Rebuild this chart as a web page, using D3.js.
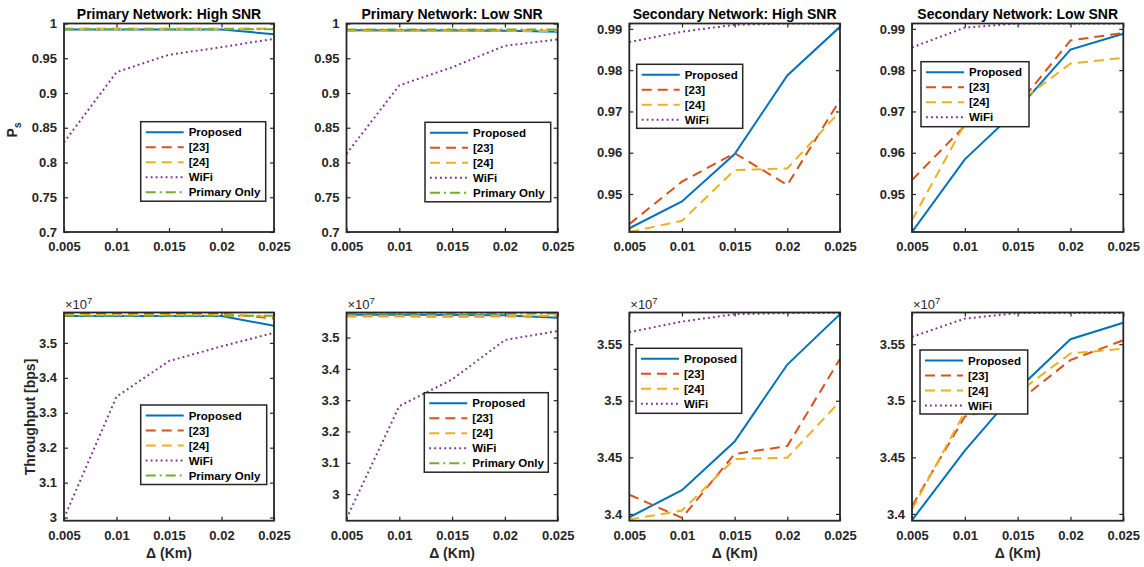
<!DOCTYPE html>
<html>
<head>
<meta charset="utf-8">
<script src="https://cdn.jsdelivr.net/npm/d3@7/dist/d3.min.js"></script>
<style>
body{margin:0;background:#fff;}
svg{display:block;font-family:"Liberation Sans",Arial,Helvetica,sans-serif;}
</style>
</head>
<body>
<svg id="chart" width="1144" height="567"></svg>
<script>

// ===============================
// DATA
// ===============================

const deltaKm=[0.005,0.01,0.015,0.02,0.025];

const xTickLabels=["0.005","0.01","0.015","0.02","0.025"];

const seriesNames=["Proposed","[23]","[24]","WiFi","Primary Only"];

// success probability, primary network
const psPriHighProposed=[0.9915,0.9915,0.9915,0.9915,0.9845];
const psPriHigh23=[0.9925,0.9925,0.9925,0.9925,0.9925];
const psPriHigh24=[0.9921,0.9921,0.9921,0.9921,0.9921];
const psPriHighWifi=[0.829,0.930,0.955,0.966,0.978];
const psPriHighPrimary=[0.9918,0.9918,0.9918,0.9918,0.9918];

const psPriLowProposed=[0.9902,0.9900,0.9899,0.9895,0.9880];
const psPriLow23=[0.9905,0.9897,0.9900,0.9900,0.9896];
const psPriLow24=[0.9893,0.9893,0.9894,0.9894,0.9893];
const psPriLowWifi=[0.8125,0.911,0.937,0.968,0.977];
const psPriLowPrimary=[0.9915,0.9915,0.9915,0.9915,0.9915];

// success probability, secondary network
const psSecHighProposed=[0.9417,0.9482,0.9597,0.9787,0.9905];
const psSecHigh23=[0.9427,0.9530,0.9599,0.9522,0.9728];
const psSecHigh24=[0.9408,0.9435,0.9558,0.9562,0.9700];
const psSecHighWifi=[0.9868,0.9893,0.9910,0.9913,0.9913];

const psSecLowProposed=[0.9408,0.9584,0.9705,0.9850,0.9888];
const psSecLow23=[0.9534,0.9665,0.9715,0.9872,0.9890];
const psSecLow24=[0.9437,0.9670,0.9720,0.9816,0.9830];
const psSecLowWifi=[0.9855,0.9903,0.9913,0.9913,0.9913];

// throughput (x 1e7 bps), primary network
const thPriHighProposed=[3.577,3.577,3.577,3.577,3.549];
const thPriHigh23=[3.584,3.584,3.584,3.584,3.570];
const thPriHigh24=[3.580,3.580,3.580,3.580,3.575];
const thPriHighWifi=[2.998,3.346,3.448,3.490,3.529];
const thPriHighPrimary=[3.578,3.578,3.578,3.578,3.578];

const thPriLowProposed=[3.573,3.573,3.572,3.571,3.563];
const thPriLow23=[3.568,3.568,3.567,3.568,3.568];
const thPriLow24=[3.570,3.570,3.570,3.570,3.570];
const thPriLowWifi=[2.922,3.281,3.366,3.492,3.521];
const thPriLowPrimary=[3.577,3.577,3.577,3.577,3.577];

// throughput (x 1e7 bps), secondary network
const thSecHighProposed=[3.397,3.421,3.464,3.532,3.5765];
const thSecHigh23=[3.417,3.3965,3.453,3.460,3.537];
const thSecHigh24=[3.395,3.403,3.4485,3.4497,3.4995];
const thSecHighWifi=[3.5606,3.570,3.5765,3.5775,3.5775];

const thSecLowProposed=[3.3944,3.456,3.510,3.5544,3.569];
const thSecLow23=[3.4068,3.486,3.499,3.536,3.5535];
const thSecLow24=[3.404,3.490,3.507,3.5418,3.546];
const thSecLowWifi=[3.5565,3.5726,3.5775,3.5775,3.5775];

// y ticks
const psPriTicks=[0.7,0.75,0.8,0.85,0.9,0.95,1];
const psPriTickLabels=["0.7","0.75","0.8","0.85","0.9","0.95","1"];
const psSecTicks=[0.95,0.96,0.97,0.98,0.99];
const psSecTickLabels=["0.95","0.96","0.97","0.98","0.99"];
const thPriTicks=[3,3.1,3.2,3.3,3.4,3.5];
const thPriTickLabels=["3","3.1","3.2","3.3","3.4","3.5"];
const thSecTicks=[3.4,3.45,3.5,3.55];
const thSecTickLabels=["3.4","3.45","3.5","3.55"];

const titles=[
    "Primary Network: High SNR",
    "Primary Network: Low SNR",
    "Secondary Network: High SNR",
    "Secondary Network: Low SNR"
];

// ===============================
// STYLES
// ===============================

const lineStyles=[
    {color:"#0072BD",dash:null},
    {color:"#D95319",dash:"10,6"},
    {color:"#EDB120",dash:"10,6"},
    {color:"#7E2F8E",dash:"1.8,3.2"},
    {color:"#77AC30",dash:"10,4,2,4"}
];

const colLeft=[64,346.5,629.3,912];
const colRight=[274,557.7,840,1123.3];
const rowTop=[23.5,312.5];
const rowBottom=[232,520.7];

// ===============================
// PANELS
// ===============================

const panels=[
    {col:0,row:0,title:titles[0],domain:[0.7,1],ticks:psPriTicks,labels:psPriTickLabels,
     series:[psPriHighProposed,psPriHigh23,psPriHigh24,psPriHighWifi,psPriHighPrimary],
     legend:[140.7,121.7,125,79.5]},
    {col:1,row:0,title:titles[1],domain:[0.7,1],ticks:psPriTicks,labels:psPriTickLabels,
     series:[psPriLowProposed,psPriLow23,psPriLow24,psPriLowWifi,psPriLowPrimary],
     legend:[425,122.3,125.7,79.5]},
    {col:2,row:0,title:titles[2],domain:[0.9408,0.9913],ticks:psSecTicks,labels:psSecTickLabels,
     series:[psSecHighProposed,psSecHigh23,psSecHigh24,psSecHighWifi],
     legend:[636.7,64.3,106,64]},
    {col:3,row:0,title:titles[3],domain:[0.9408,0.9913],ticks:psSecTicks,labels:psSecTickLabels,
     series:[psSecLowProposed,psSecLow23,psSecLow24,psSecLowWifi],
     legend:[921,61.7,108,65]},
    {col:0,row:1,domain:[2.991,3.587],ticks:thPriTicks,labels:thPriTickLabels,
     series:[thPriHighProposed,thPriHigh23,thPriHigh24,thPriHighWifi,thPriHighPrimary],
     legend:[140.7,405,126,79.5]},
    {col:1,row:1,domain:[2.915,3.58],ticks:thPriTicks,labels:thPriTickLabels,
     series:[thPriLowProposed,thPriLow23,thPriLow24,thPriLowWifi,thPriLowPrimary],
     legend:[424.3,392.7,124,79.5]},
    {col:2,row:1,domain:[3.394,3.578],ticks:thSecTicks,labels:thSecTickLabels,
     series:[thSecHighProposed,thSecHigh23,thSecHigh24,thSecHighWifi],
     legend:[636,348.3,105.7,65]},
    {col:3,row:1,domain:[3.394,3.578],ticks:thSecTicks,labels:thSecTickLabels,
     series:[thSecLowProposed,thSecLow23,thSecLow24,thSecLowWifi],
     legend:[920,350,107.7,64]}
];

const svg=d3.select("#chart");

// ===============================
// DRAW ONE PANEL
// ===============================

function drawPanel(p,i){

    const x0=colLeft[p.col],x1=colRight[p.col];
    const y0=rowTop[p.row],y1=rowBottom[p.row];

    const x=d3.scaleLinear().domain([0.005,0.025]).range([x0,x1]);
    const y=d3.scaleLinear().domain(p.domain).range([y1,y0]);

    const g=svg.append("g");

    g.append("clipPath")
        .attr("id","clip"+i)
        .append("rect")
        .attr("x",x0).attr("y",y0)
        .attr("width",x1-x0).attr("height",y1-y0);

    // -------- AXES --------

    const bottom=g.append("g")
        .attr("transform",`translate(0,${y1})`)
        .call(d3.axisBottom(x).tickValues(deltaKm)
            .tickSizeInner(-4).tickSizeOuter(0).tickPadding(10)
            .tickFormat((d,k)=>xTickLabels[k]));

    const left=g.append("g")
        .attr("transform",`translate(${x0},0)`)
        .call(d3.axisLeft(y).tickValues(p.ticks)
            .tickSizeInner(-4).tickSizeOuter(0).tickPadding(7)
            .tickFormat((d,k)=>p.labels[k]));

    const top=g.append("g")
        .attr("transform",`translate(0,${y0})`)
        .call(d3.axisTop(x).tickValues(deltaKm)
            .tickSizeInner(-4).tickSizeOuter(0).tickFormat(""));

    const right=g.append("g")
        .attr("transform",`translate(${x1},0)`)
        .call(d3.axisRight(y).tickValues(p.ticks)
            .tickSizeInner(-4).tickSizeOuter(0).tickFormat(""));

    [bottom,left,top,right].forEach(a=>{
        a.select(".domain").remove();
        a.selectAll("line").attr("stroke","#262626").attr("stroke-width",1.2);
        a.selectAll("text")
            .attr("fill","#262626")
            .style("font-size","13px")
            .style("font-weight","bold");
    });

    // -------- LINES --------

    const line=d3.line()
        .x((d,k)=>x(deltaKm[k]))
        .y(d=>y(d));

    const lines=g.append("g").attr("clip-path",`url(#clip${i})`);

    p.series.forEach((s,k)=>{

        lines.append("path")
            .datum(s)
            .attr("d",line)
            .attr("fill","none")
            .attr("stroke",lineStyles[k].color)
            .attr("stroke-width",2)
            .attr("stroke-dasharray",lineStyles[k].dash);

    });

    // -------- BOX --------

    g.append("rect")
        .attr("x",x0).attr("y",y0)
        .attr("width",x1-x0).attr("height",y1-y0)
        .attr("fill","none")
        .attr("stroke","#262626")
        .attr("stroke-width",1.8);

    // -------- TITLE / LABELS --------

    if(p.title){

        g.append("text")
            .attr("x",(x0+x1)/2).attr("y",19)
            .attr("text-anchor","middle")
            .style("font-size","14px").style("font-weight","bold")
            .attr("fill","#000")
            .text(p.title);

    }

    if(p.row===1){

        g.append("text")
            .attr("x",(x0+x1)/2).attr("y",558)
            .attr("text-anchor","middle")
            .style("font-size","14px").style("font-weight","bold")
            .attr("fill","#262626")
            .text("\u0394 (Km)");

        const mult=g.append("text")
            .attr("x",x0+1).attr("y",y0-4)
            .style("font-size","13px")
            .attr("fill","#262626");

        mult.append("tspan").text("\u00d710");
        mult.append("tspan").attr("dy",-5).style("font-size","9.5px").text("7");

    }

    // -------- LEGEND --------

    const [lx,ly,lw,lh]=p.legend;

    const leg=g.append("g");

    leg.append("rect")
        .attr("x",lx).attr("y",ly)
        .attr("width",lw).attr("height",lh)
        .attr("fill","#fff")
        .attr("stroke","#262626")
        .attr("stroke-width",1.5);

    p.series.forEach((s,k)=>{

        const cy=ly+10.5+k*15;

        leg.append("line")
            .attr("x1",lx+5).attr("x2",lx+43)
            .attr("y1",cy).attr("y2",cy)
            .attr("stroke",lineStyles[k].color)
            .attr("stroke-width",2)
            .attr("stroke-dasharray",lineStyles[k].dash);

        leg.append("text")
            .attr("x",lx+48).attr("y",cy+4)
            .style("font-size","11.5px").style("font-weight","bold")
            .attr("fill","#000")
            .text(seriesNames[k]);

    });

}

panels.forEach(drawPanel);

// ===============================
// Y AXIS TITLES
// ===============================

const ps=svg.append("text")
    .attr("transform","translate(17,130) rotate(-90)")
    .attr("text-anchor","middle")
    .style("font-size","14px").style("font-weight","bold")
    .attr("fill","#262626");

ps.append("tspan").text("P");
ps.append("tspan").attr("dy",4).style("font-size","10px").text("s");

svg.append("text")
    .attr("transform","translate(35,417) rotate(-90)")
    .attr("text-anchor","middle")
    .style("font-size","14px").style("font-weight","bold")
    .attr("fill","#262626")
    .text("Throughput [bps]");

</script>
</body>
</html>
